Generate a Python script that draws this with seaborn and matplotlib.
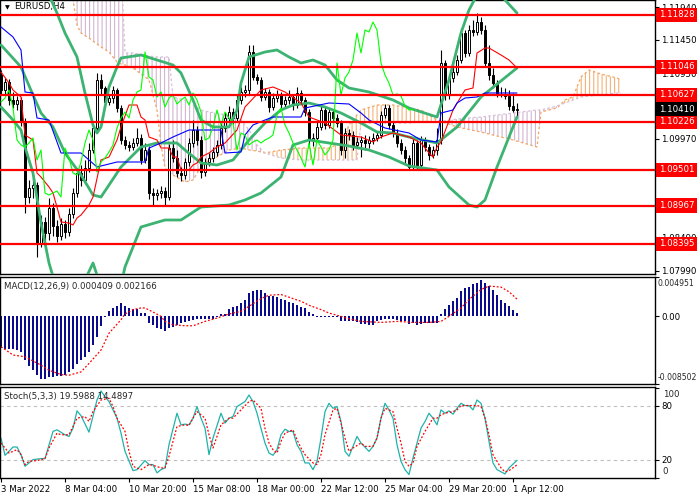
import numpy as np
import matplotlib
matplotlib.use("Agg")
import matplotlib.pyplot as plt
import matplotlib.transforms as mtransforms
import seaborn as sns

# ---- candles (H4 EURUSD) ----
first_open = 1.10925
closes = [1.1070, 1.1082, 1.1055, 1.1049, 1.1055, 1.1022, 1.09095, 1.0923, 1.09275, 1.08405,
          1.0872, 1.08555, 1.0893, 1.0866, 1.0851, 1.0869, 1.0857, 1.0884, 1.09155, 1.09455,
          1.0935, 1.0953, 1.0980, 1.1013, 1.1085, 1.1073, 1.1052, 1.1058, 1.1070, 1.1043,
          1.0995, 1.09875, 1.09845, 1.09905, 1.0998, 1.0965, 1.0980, 1.09155, 1.09125, 1.09155,
          1.09185, 1.09095, 1.0983, 1.0968, 1.09455, 1.09425, 1.0962, 1.09905, 1.1010, 1.0995,
          1.0947, 1.0962, 1.0968, 1.0977, 1.09875, 1.1013, 1.1028, 1.1037, 1.1028, 1.1055,
          1.1067, 1.1070, 1.1127, 1.10895, 1.1085, 1.10595, 1.1067, 1.10445, 1.1058, 1.10625,
          1.1049, 1.1055, 1.10595, 1.10475, 1.10655, 1.1055, 1.1037, 1.0995, 1.0998, 1.10145,
          1.1040, 1.10175, 1.1037, 1.1028, 1.10205, 1.0980, 1.10055, 1.10025, 1.09875, 1.0992,
          1.0995, 1.09905, 1.0995, 1.0998, 1.10025, 1.10325, 1.1043, 1.10175, 1.10055, 1.09905,
          1.0980, 1.0968, 1.09545, 1.09905, 1.09575, 1.0995, 1.09845, 1.09725, 1.0980, 1.0995,
          1.11105, 1.10625, 1.1088, 1.1097, 1.1115, 1.11555, 1.11255, 1.1160, 1.1157, 1.1172,
          1.1160, 1.11105, 1.10925, 1.10805, 1.10625, 1.1064, 1.1061, 1.1046, 1.1040, 1.1041]
highs = [1.1100, 1.1088, 1.10865, 1.1067, 1.1061, 1.10595, 1.1028, 1.0935, 1.0938, 1.0932,
         1.08825, 1.08795, 1.0908, 1.09005, 1.0875, 1.0878, 1.0875, 1.0893, 1.0923, 1.0953,
         1.09575, 1.0965, 1.09905, 1.1019, 1.10955, 1.1094, 1.1076, 1.1064, 1.1076, 1.1073,
         1.10475, 1.1001, 1.09935, 1.0998, 1.1013, 1.1004, 1.09905, 1.0986, 1.0923, 1.09215,
         1.0926, 1.09245, 1.0989, 1.0995, 1.0980, 1.09545, 1.0968, 1.0998, 1.1025, 1.1016,
         1.1001, 1.0968, 1.09755, 1.09845, 1.0995, 1.1022, 1.1037, 1.1046, 1.1043, 1.10625,
         1.10745, 1.10775, 1.11375, 1.11375, 1.1094, 1.10895, 1.1073, 1.10715, 1.10655, 1.1070,
         1.1067, 1.1061, 1.1070, 1.1064, 1.10745, 1.1070, 1.10595, 1.10415, 1.10055, 1.1022,
         1.1046, 1.10445, 1.1043, 1.10415, 1.1034, 1.1025, 1.1013, 1.10115, 1.10085, 1.09995,
         1.1001, 1.10025, 1.1001, 1.10055, 1.10085, 1.10385, 1.1049, 1.10475, 1.1022, 1.10115,
         1.09965, 1.0986, 1.09725, 1.09965, 1.0995, 1.1001, 1.09995, 1.0989, 1.0986, 1.1013,
         1.1130, 1.1115, 1.10925, 1.11045, 1.11225, 1.1163, 1.1160, 1.11675, 1.1175, 1.11855,
         1.11795, 1.11675, 1.11375, 1.1103, 1.1085, 1.10745, 1.1073, 1.1070, 1.10655, 1.10505]
lows = [1.10625, 1.10625, 1.10475, 1.1043, 1.1040, 1.1016, 1.08855, 1.09005, 1.0908, 1.08195,
        1.08345, 1.08375, 1.0845, 1.0851, 1.0842, 1.0845, 1.0848, 1.0851, 1.0878, 1.09095,
        1.0926, 1.0929, 1.0947, 1.09755, 1.1007, 1.1064, 1.1046, 1.10475, 1.10505, 1.1037,
        1.0989, 1.09815, 1.09785, 1.0980, 1.0986, 1.0959, 1.09605, 1.09065, 1.08975, 1.0905,
        1.0908, 1.08975, 1.0905, 1.0962, 1.09395, 1.09335, 1.09365, 1.0956, 1.09845, 1.09875,
        1.0938, 1.0941, 1.0956, 1.0962, 1.0971, 1.09815, 1.1007, 1.1022, 1.1019, 1.1022,
        1.1049, 1.10595, 1.1064, 1.1085, 1.1079, 1.10535, 1.1055, 1.1037, 1.1040, 1.1052,
        1.1043, 1.10445, 1.1049, 1.1040, 1.1043, 1.1049, 1.1031, 1.09875, 1.0986, 1.09935,
        1.1010, 1.10115, 1.1013, 1.1022, 1.10145, 1.09725, 1.0968, 1.0995, 1.0980, 1.0983,
        1.09695, 1.0980, 1.0983, 1.0989, 1.09935, 1.0998, 1.1028, 1.10115, 1.09995, 1.09845,
        1.0974, 1.09605, 1.0950, 1.0950, 1.0950, 1.0953, 1.09785, 1.0965, 1.0968, 1.09725,
        1.0989, 1.1055, 1.10565, 1.1082, 1.10925, 1.11105, 1.11195, 1.1121, 1.1151, 1.11525,
        1.1154, 1.1106, 1.1085, 1.1073, 1.10595, 1.10595, 1.10565, 1.1040, 1.1037, 1.1031]

# ---- Bollinger bands ----
bb_up_bars = [0, 7, 12, 14, 16, 19, 21, 23, 24, 25, 27, 29, 30, 35, 43, 45, 48, 50, 53, 57,
              59, 60, 62, 66, 69, 72, 75, 78, 81, 84, 87, 92, 98, 102, 109, 112, 115, 117, 119, 124,
              126, 129]
bb_up = [1.1265, 1.12425, 1.12125, 1.11855, 1.11555, 1.11195, 1.10655, 1.10175, 1.10055, 1.10145,
         1.10745, 1.11045, 1.1118, 1.11225, 1.11075, 1.10955, 1.1055, 1.1025, 1.10145, 1.10145,
         1.104, 1.10805, 1.11195, 1.1127, 1.113, 1.11195, 1.11105, 1.1115, 1.11075, 1.1085,
         1.1073, 1.1067, 1.1055, 1.1043, 1.10295, 1.1085, 1.11555, 1.119, 1.12125, 1.122,
         1.1205, 1.11855]
bb_mid_bars = [0, 5, 8, 10, 13, 16, 20, 23, 25, 27, 30, 35, 39, 44, 46, 50, 54, 58, 62, 66,
               70, 73, 77, 81, 85, 90, 94, 98, 102, 109, 114, 120, 129]
bb_mid = [1.11375, 1.11045, 1.10625, 1.10355, 1.10145, 1.09755, 1.09425, 1.09125, 1.09095, 1.09275,
          1.09545, 1.09845, 1.09905, 1.09905, 1.098, 1.09605, 1.09575, 1.0965, 1.0995, 1.10205,
          1.104, 1.10475, 1.10505, 1.10445, 1.10355, 1.10205, 1.1007, 1.10055, 1.09995, 1.09905,
          1.10145, 1.10595, 1.1103]
bb_low_bars = [0, 3, 5, 6, 8, 10, 12, 14, 18, 21, 23, 24, 27, 30, 31, 35, 41, 45, 50, 57,
               61, 65, 70, 73, 77, 82, 87, 92, 97, 102, 109, 112, 117, 119, 121, 124, 129]
bb_low = [1.10445, 1.1025, 1.101, 1.09845, 1.09455, 1.08705, 1.08105, 1.077, 1.0755, 1.0785,
          1.08105, 1.07925, 1.077, 1.07775, 1.08045, 1.08645, 1.0875, 1.0875, 1.08945, 1.08975,
          1.0905, 1.09155, 1.09395, 1.09875, 1.0995, 1.09905, 1.0986, 1.098, 1.09695, 1.0956,
          1.095, 1.09245, 1.08975, 1.08945, 1.0905, 1.09545, 1.10295]

# ---- Ichimoku ----
tenkan_bars = [0, 2, 3, 5, 6, 8, 9, 10, 12, 13, 14, 15, 17, 18, 19, 20, 22, 23, 25, 27,
               29, 30, 32, 34, 35, 36, 37, 39, 40, 42, 43, 44, 45, 47, 48, 49, 50, 52, 54, 56,
               59, 61, 65, 68, 71, 75, 77, 81, 85, 90, 93, 95, 98, 102, 105, 107, 108, 109, 110, 113,
               116, 118, 119, 121, 122, 125, 127, 129]
tenkan = [1.1097, 1.10805, 1.107, 1.10595, 1.10025, 1.0995, 1.09455, 1.09395, 1.09245, 1.09155,
          1.08945, 1.0872, 1.08705, 1.08675, 1.0878, 1.08825, 1.08975, 1.09095, 1.0965, 1.09695,
          1.0995, 1.10145, 1.10475, 1.10475, 1.10295, 1.1025, 1.09995, 1.0995, 1.0983, 1.0983,
          1.09695, 1.09695, 1.095, 1.095, 1.09575, 1.09605, 1.09695, 1.09755, 1.09845, 1.09905,
          1.101, 1.10445, 1.107, 1.10745, 1.1067, 1.10505, 1.10295, 1.10205, 1.10025, 1.09995,
          1.0992, 1.09995, 1.10055, 1.09995, 1.09905, 1.09755, 1.09695, 1.09845, 1.0992, 1.104,
          1.107, 1.1073, 1.11255, 1.1133, 1.1133, 1.11225, 1.1115, 1.1103]
kijun_bars = [0, 3, 5, 6, 8, 9, 12, 15, 20, 24, 29, 36, 37, 40, 43, 47, 55, 56, 60, 61,
              63, 66, 68, 75, 76, 82, 87, 90, 92, 96, 102, 105, 109, 110, 113, 114, 116, 119, 121, 129]
kijun = [1.11645, 1.11495, 1.113, 1.1067, 1.10655, 1.1028, 1.1025, 1.09755, 1.09755, 1.09545,
         1.0962, 1.0962, 1.0983, 1.09905, 1.09995, 1.101, 1.101, 1.09755, 1.0977, 1.10025,
         1.10175, 1.1025, 1.10295, 1.10295, 1.1043, 1.10505, 1.1049, 1.10355, 1.1025, 1.1013,
         1.10055, 1.0995, 1.0992, 1.10355, 1.104, 1.10505, 1.1058, 1.10595, 1.10655, 1.10655]
cloud_bars = [0, 16, 18, 19, 20, 22, 25, 27, 29, 30, 31, 33, 37, 39, 40, 41, 42, 43, 46, 48,
              50, 52, 54, 57, 60, 62, 64, 66, 70, 75, 82, 85, 87, 89, 90, 94, 98, 102, 105, 109,
              114, 120, 128, 134, 135, 139, 141, 143, 145, 147, 150, 154, 155]
span_a = [1.1265, 1.1217, 1.1205, 1.11675, 1.11555, 1.1148, 1.11345, 1.1127, 1.1112, 1.1109,
          1.11075, 1.1103, 1.1085, 1.104, 1.09875, 1.0953, 1.0947, 1.09425, 1.0932, 1.0935,
          1.09545, 1.0965, 1.09695, 1.098, 1.0983, 1.098, 1.09785, 1.09755, 1.098, 1.0983,
          1.0983, 1.09905, 1.10175, 1.10325, 1.104, 1.10475, 1.10475, 1.1043, 1.104, 1.1025,
          1.10145, 1.1007, 1.0995, 1.09845, 1.1037, 1.1043, 1.1055, 1.10595, 1.10895, 1.1100,
          1.1094, 1.1088, 1.1085]
span_b = [1.1325, 1.1295, 1.12875, 1.1283, 1.128, 1.1277, 1.12725, 1.1268, 1.1265, 1.1262,
          1.11255, 1.11255, 1.1121, 1.11195, 1.11195, 1.11195, 1.11195, 1.10595, 1.1055, 1.10475,
          1.104, 1.1037, 1.10355, 1.1031, 1.1025, 1.101, 1.09875, 1.09755, 1.0968, 1.0965,
          1.0965, 1.0965, 1.0965, 1.0965, 1.10205, 1.10205, 1.10205, 1.10205, 1.1022, 1.1022,
          1.10265, 1.10295, 1.10355, 1.104, 1.104, 1.1046, 1.10505, 1.1055, 1.10595, 1.1061,
          1.10625, 1.10655, 1.10655]

levels = [1.11828, 1.11046, 1.10627, 1.10226, 1.09501, 1.08967, 1.08395]
price_ticks = [1.11940, 1.11450, 1.10950, 1.10460, 1.09970, 1.09470, 1.08980, 1.08490, 1.07990]

# ---- MACD ----
macd_hist = [-0.00402, -0.00410, -0.00410, -0.00415, -0.00423, -0.00453, -0.00550, -0.00622, -0.00668, -0.00740,
             -0.00791, -0.00783, -0.00761, -0.00761, -0.00753, -0.00749, -0.00732, -0.00698, -0.00656, -0.00605,
             -0.00550, -0.00508, -0.00444, -0.00360, -0.00262, -0.00127, -0.00013, 0.00063, 0.00106, 0.00135,
             0.00169, 0.00135, 0.00106, 0.00093, 0.00093, 0.00042, 0.00042, -0.00085, -0.00106, -0.00148,
             -0.00157, -0.00190, -0.00140, -0.00135, -0.00114, -0.00085, -0.00076, -0.00063, -0.00042, -0.00034,
             -0.00034, -0.00034, -0.00034, -0.00034, -0.00013, 0.00034, 0.00034, 0.00093, 0.00114, 0.00135,
             0.00169, 0.00212, 0.00288, 0.00317, 0.00326, 0.00326, 0.00296, 0.00262, 0.00254, 0.00241,
             0.00220, 0.00212, 0.00178, 0.00169, 0.00148, 0.00118, 0.00106, 0.00055, 0.00030, -0.00013,
             -0.00013, -0.00013, -0.00008, -0.00008, -0.00008, -0.00063, -0.00063, -0.00063, -0.00063, -0.00076,
             -0.00097, -0.00097, -0.00114, -0.00106, -0.00063, -0.00042, -0.00034, -0.00034, -0.00034, -0.00042,
             -0.00055, -0.00063, -0.00097, -0.00085, -0.00114, -0.00097, -0.00085, -0.00085, -0.00085, -0.00085,
             0.00034, 0.00097, 0.00148, 0.00199, 0.00233, 0.00317, 0.00351, 0.00372, 0.00402, 0.00423,
             0.00453, 0.00423, 0.00381, 0.00326, 0.00275, 0.00212, 0.00169, 0.00135, 0.00085, 0.00041]
macd_sig_bars = [0, 3, 6, 10, 12, 15, 17, 20, 22, 25, 27, 30, 31, 33, 35, 36, 38, 40, 41, 43,
                 46, 48, 51, 54, 57, 60, 62, 65, 67, 70, 72, 75, 77, 80, 82, 85, 87, 90, 95, 99,
                 103, 107, 110, 112, 115, 117, 120, 122, 125, 127, 129]
macd_sig = [-0.00381, -0.00486, -0.00508, -0.00613, -0.00677, -0.00732, -0.00740, -0.00698, -0.00592, -0.00423,
            -0.00212, -0.00042, 0.00030, 0.00085, 0.00106, 0.00106, 0.00055, 0.0, -0.00063, -0.00106,
            -0.00118, -0.00118, -0.00063, -0.00021, 0.00030, 0.00063, 0.00127, 0.00224, 0.00266, 0.00275,
            0.00241, 0.00190, 0.00140, 0.00085, 0.00042, 0.0, -0.00030, -0.00063, -0.00076, -0.00063,
            -0.00076, -0.00076, -0.00063, 0.0, 0.00106, 0.00212, 0.00338, 0.00381, 0.00368, 0.00309,
            0.00217]
macd_max, macd_min = 0.004951, -0.008502

# ---- Stochastic ----
stoch_k_bars = [0, 1, 2, 3, 4, 5, 6, 7, 8, 10, 11, 13, 14, 16, 17, 18, 19, 20, 22, 24,
                25, 26, 27, 29, 30, 31, 33, 34, 36, 37, 38, 39, 40, 41, 42, 44, 45, 46, 47, 48,
                49, 50, 51, 52, 53, 55, 56, 57, 58, 59, 61, 62, 63, 64, 65, 66, 67, 68, 69, 70,
                71, 72, 73, 74, 75, 76, 77, 78, 79, 80, 81, 82, 83, 84, 85, 86, 87, 88, 89, 90,
                92, 93, 94, 95, 96, 97, 98, 99, 100, 101, 102, 103, 105, 106, 107, 108, 109, 110, 111, 112,
                113, 114, 115, 116, 117, 118, 119, 120, 121, 122, 123, 124, 126, 127, 129]
stoch_k = [44.3, 25.2, 29.6, 34.4, 34.4, 25.9, 13.0, 16.7, 20.4, 21.5, 21.5, 51.7, 53.5, 48.0, 46.1, 55.3, 74.5, 69.3, 50.9, 86.6,
           96.6, 90.3, 84.8, 66.4, 49.8, 29.6, 8.2, 9.3, 19.3, 14.9, 14.9, 5.7, 9.3, 11.2, 37.0, 71.9, 59.0, 59.8, 59.0, 66.4,
           79.3, 66.4, 55.3, 25.9, 44.3, 71.9, 60.9, 66.4, 68.2, 79.3, 84.8, 92.1, 84.8, 71.9, 55.0, 38.8, 27.7, 25.2, 31.4, 48.0,
           54.2, 51.7, 51.7, 37.0, 29.6, 16.7, 16.7, 9.3, 18.5, 44.3, 73.7, 82.9, 77.4, 79.3, 62.7, 29.6, 24.1, 35.1, 46.1, 38.8,
           29.6, 35.1, 44.3, 66.4, 82.9, 75.6, 66.4, 36.9, 18.5, 9.3, 3.8, 22.2, 55.3, 62.7, 71.9, 66.4, 59.0, 75.6, 71.9, 74.5,
           70.8, 77.4, 82.9, 80.4, 80.4, 75.6, 86.6, 82.9, 66.4, 40.6, 16.7, 9.3, 4.5, 11.2, 19.6]
stoch_d_bars = [0, 1, 2, 4, 5, 6, 7, 9, 11, 12, 14, 15, 17, 18, 19, 21, 22, 23, 25, 27,
                28, 29, 31, 32, 33, 35, 37, 38, 40, 41, 42, 43, 44, 46, 47, 48, 49, 51, 52, 53,
                55, 57, 58, 60, 62, 63, 65, 66, 67, 68, 69, 70, 71, 73, 74, 75, 76, 78, 79, 80,
                81, 83, 84, 85, 86, 87, 88, 90, 91, 93, 94, 95, 96, 98, 99, 100, 101, 102, 103, 104,
                106, 107, 108, 109, 110, 111, 113, 114, 115, 117, 119, 120, 121, 122, 123, 125, 126, 127, 129]
stoch_d = [38.8, 33.3, 27.7, 31.4, 25.9, 14.9, 18.5, 19.3, 21.5, 33.3, 49.8, 48.0, 48.0, 57.2, 66.4, 68.2, 62.7, 73.7, 86.6, 88.5,
           79.3, 66.4, 51.7, 29.6, 13.0, 9.3, 14.9, 14.1, 11.2, 11.2, 24.1, 40.6, 57.2, 59.0, 58.3, 66.4, 73.7, 66.4, 48.0, 33.3,
           59.0, 66.4, 66.4, 75.6, 84.8, 86.6, 77.4, 55.0, 38.8, 31.4, 27.7, 40.6, 49.8, 53.5, 42.5, 33.3, 25.9, 16.7, 14.9, 25.9,
           48.0, 75.6, 77.4, 60.9, 44.3, 29.6, 33.3, 38.8, 35.1, 35.1, 44.3, 66.4, 77.4, 73.7, 55.3, 38.8, 18.5, 13.0, 16.7, 35.1,
           51.7, 59.0, 66.4, 66.4, 70.1, 71.9, 73.7, 75.6, 80.4, 80.4, 80.4, 79.3, 66.4, 48.0, 25.9, 11.2, 6.8, 8.2, 14.5]

date_bars = [0, 16, 32, 48, 64, 80, 96, 112, 128]
date_labels = ["3 Mar 2022", "8 Mar 04:00", "10 Mar 20:00", "15 Mar 08:00", "18 Mar 00:00",
               "22 Mar 12:00", "25 Mar 04:00", "29 Mar 20:00", "1 Apr 12:00"]

# ---- figure setup ----
sns.set_theme(style="ticks")
plt.rcParams["font.family"] = ["DejaVu Sans"]
plt.rcParams["hatch.linewidth"] = 0.8
FS = 6.2

fig = plt.figure(figsize=(7, 5), dpi=100)
fig.patch.set_facecolor("white")


def panel(top, bottom):
    a = fig.add_axes([0, 1 - bottom / 500, 655 / 700, (bottom - top) / 500])
    a.set_facecolor("white")
    a.set_xlim(-0.25, 163.5)
    for s in a.spines.values():
        s.set_color("black")
        s.set_linewidth(1.0)
    a.yaxis.tick_right()
    a.tick_params(axis="y", direction="out", length=3, width=0.8, pad=1.5,
                  labelsize=FS, colors="black")
    return a


ax = panel(0, 274)
ax_macd = panel(277, 384)
ax_st = panel(387, 478)

bars = np.arange(len(closes))
closes = np.array(closes)
opens = np.r_[first_open, closes[:-1]]

# ichimoku cloud (hatched)
cb = np.array(cloud_bars)
sa = np.array(span_a)
sb = np.array(span_b)
ax.fill_between(cb, sa, sb, where=sa >= sb, interpolate=True, facecolor="none",
                edgecolor=(0.957, 0.643, 0.376, 0.85), hatch="||||", linewidth=0, zorder=1)
ax.fill_between(cb, sa, sb, where=sa <= sb, interpolate=True, facecolor="none",
                edgecolor=(0.80, 0.68, 0.80, 0.9), hatch="||||", linewidth=0, zorder=1)
sns.lineplot(x=cb, y=sa, ax=ax, color="#F4A460", linestyle=(0, (2, 2)), linewidth=0.9,
             estimator=None, sort=False, zorder=2)
sns.lineplot(x=cb, y=sb, ax=ax, color="#D8BFD8", linestyle=(0, (2, 2)), linewidth=0.9,
             estimator=None, sort=False, zorder=2)

# candles
up = closes >= opens
ax.vlines(bars, lows, highs, color="black", linewidth=0.8, zorder=3)
ax.bar(bars, np.abs(closes - opens), bottom=np.minimum(opens, closes), width=0.72,
       color=np.where(up, "white", "black"), edgecolor="black", linewidth=0.7, zorder=4)

# bollinger bands
for bx, by in [(bb_up_bars, bb_up), (bb_mid_bars, bb_mid), (bb_low_bars, bb_low)]:
    sns.lineplot(x=bx, y=by, ax=ax, color="#3CB371", linewidth=2.0,
                 estimator=None, sort=False, zorder=5)

# tenkan / kijun / chikou
sns.lineplot(x=tenkan_bars, y=tenkan, ax=ax, color="red", linewidth=0.8,
             estimator=None, sort=False, zorder=5)
sns.lineplot(x=kijun_bars, y=kijun, ax=ax, color="blue", linewidth=0.8,
             estimator=None, sort=False, zorder=5)
sns.lineplot(x=bars[:-26], y=closes[26:], ax=ax, color="#00FF00", linewidth=0.8,
             estimator=None, sort=False, zorder=5)

# horizontal levels and their labels
trans = mtransforms.blended_transform_factory(ax.transAxes, ax.transData)
for lv in levels:
    ax.axhline(lv, color="red", linewidth=1.6, zorder=6)
    ax.text(1.006, lv, f"{lv:.5f}", transform=trans, color="white", fontsize=FS,
            va="center", ha="left", clip_on=False, zorder=10,
            bbox=dict(boxstyle="square,pad=0.3", facecolor="red", edgecolor="none"))
ax.text(1.006, closes[-1], f"{closes[-1]:.5f}", transform=trans, color="white", fontsize=FS,
        va="center", ha="left", clip_on=False, zorder=11,
        bbox=dict(boxstyle="square,pad=0.3", facecolor="black", edgecolor="none"))

ax.set_ylim(1.0794, 1.1205)
ax.set_yticks(price_ticks)
ax.set_yticklabels([f"{t:.5f}" for t in price_ticks])
ax.set_xticks([])
ax.set_xlabel("")
ax.set_ylabel("")
ax.text(5 / 655, 1 - 8 / 274, "\u25bc", transform=ax.transAxes, fontsize=4.5,
        va="center", ha="left", color="black")
ax.text(14 / 655, 1 - 7 / 274, "EURUSD,H4", transform=ax.transAxes, fontsize=FS,
        va="center", ha="left", color="black")

# MACD panel
ax_macd.bar(bars, macd_hist, width=0.7, color="#0A0A8C", linewidth=0)
sns.lineplot(x=macd_sig_bars, y=macd_sig, ax=ax_macd, color="red", linestyle=(0, (1.5, 1.5)),
             linewidth=0.9, estimator=None, sort=False)
ax_macd.set_ylim(macd_min, macd_max)
ax_macd.set_yticks([macd_min, 0, macd_max])
ax_macd.set_yticklabels(["", "0.00", ""])
tm = mtransforms.blended_transform_factory(ax_macd.transAxes, ax_macd.transData)
ax_macd.text(1.004, 0.00419, f"{macd_max:.6f}", transform=tm, fontsize=5.6, va="center", ha="left")
ax_macd.text(1.004, -0.00774, f"{macd_min:.6f}", transform=tm, fontsize=5.6, va="center", ha="left")
ax_macd.set_xticks([])
ax_macd.set_xlabel("")
ax_macd.set_ylabel("")
ax_macd.text(4 / 655, 1 - 10 / 107, "MACD(12,26,9) 0.000409 0.002166", transform=ax_macd.transAxes,
             fontsize=FS, va="center", ha="left")

# Stochastic panel
for lv in (80, 20):
    ax_st.axhline(lv, color="#BEBEBE", linestyle=(0, (3, 3)), linewidth=0.8)
sns.lineplot(x=stoch_k_bars, y=stoch_k, ax=ax_st, color="#20B2AA", linewidth=0.9,
             estimator=None, sort=False)
sns.lineplot(x=stoch_d_bars, y=stoch_d, ax=ax_st, color="red", linestyle=(0, (1.5, 1.5)),
             linewidth=0.9, estimator=None, sort=False)
ax_st.set_ylim(0, 101)
ax_st.set_yticks([0, 20, 80, 100])
ax_st.set_yticklabels(["", "20", "80", ""])
ts = mtransforms.blended_transform_factory(ax_st.transAxes, ax_st.transData)
ax_st.text(1.012, 93, "100", transform=ts, fontsize=FS, va="center", ha="left")
ax_st.text(1.012, 7, "0", transform=ts, fontsize=FS, va="center", ha="left")
ax_st.set_xticks(date_bars)
ax_st.set_xticklabels(date_labels)
ax_st.tick_params(axis="x", direction="out", length=3, width=0.8, pad=2,
                  labelsize=FS, colors="black")
for lbl in ax_st.get_xticklabels():
    lbl.set_ha("left")
ax_st.set_xlim(-0.25, 163.5)
ax_st.set_xlabel("")
ax_st.set_ylabel("")
ax_st.text(4 / 655, 1 - 9 / 91, "Stoch(5,3,3) 19.5988 14.4897", transform=ax_st.transAxes,
           fontsize=FS, va="center", ha="left")

for a in (ax, ax_macd):
    a.set_xlim(-0.25, 163.5)

fig.savefig("out.png", dpi=100, facecolor="white")
